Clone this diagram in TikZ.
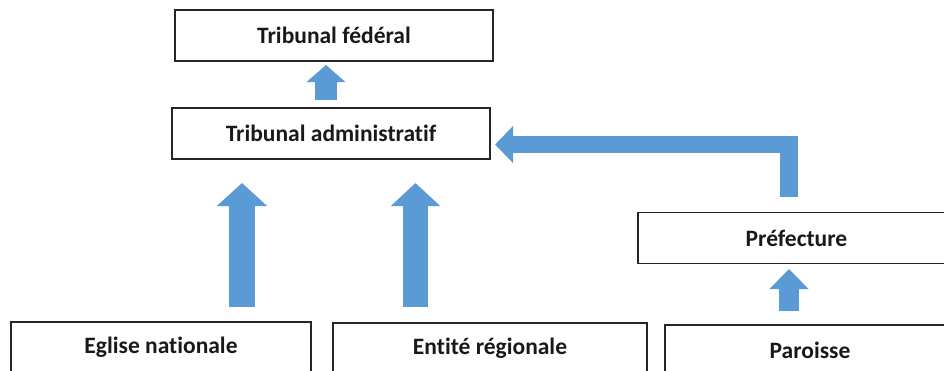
\documentclass[tikz,border=0pt]{standalone}
\usepackage{fontspec}
\setmainfont{Carlito}[Ligatures=NoCommon]
\usetikzlibrary{arrows.meta}
\definecolor{arrblue}{HTML}{5B9BD5}
\definecolor{boxline}{HTML}{262626}
\tikzset{
  box/.style={draw=boxline, line width=1.3pt, fill=white, minimum height=51pt, inner sep=0pt,
    font=\fontsize{23.5}{27}\selectfont\bfseries, text=black!90},
  blk/.style={draw=arrblue, line cap=butt, line join=miter}
}
\begin{document}
\begin{tikzpicture}[x=1pt,y=-1pt]
\path[use as bounding box] (0,0) rectangle (944,370);
\clip (0,0) rectangle (944,370);
\node[box, minimum width=318pt] (fed) at (334,35.5) {Tribunal fédéral};
\node[box, minimum width=318pt] (admin) at (331,133.5) {Tribunal administratif};
\node[box, minimum width=317pt] (pref) at (796.5,238) {Préfecture};
\node[box, minimum width=300pt, minimum height=50pt] (eglise) at (161,347) {Eglise nationale};
\node[box, minimum width=314pt, minimum height=50pt] (entite) at (490,348) {Entité régionale};
\node[box, minimum width=290pt, minimum height=50pt] (paroisse) at (810,350) {Paroisse};
% connector end points
\coordinate (a0s) at (326,100); \coordinate (a0e) at (326,65);
\coordinate (a1s) at (242,307); \coordinate (a1e) at (242,183);
\coordinate (a2s) at (415.5,307); \coordinate (a2e) at (415.5,183);
\coordinate (a3s) at (789,197); \coordinate (a3e) at (495,144.5);
\coordinate (a4s) at (789,311); \coordinate (a4e) at (789,269);
\draw[blk, line width=22pt, -{Triangle[length=17pt,width=38pt]}] (a0s) -- (a0e);
\draw[blk, line width=26pt, -{Triangle[length=23pt,width=49pt]}] (a1s) -- (a1e);
\draw[blk, line width=25pt, -{Triangle[length=23pt,width=48pt]}] (a2s) -- (a2e);
\draw[blk, line width=17.5pt, -{Triangle[length=18pt,width=36pt]}] (a3s) |- (a3e);
\draw[blk, line width=20pt, -{Triangle[length=20pt,width=38pt]}] (a4s) -- (a4e);
\end{tikzpicture}
\end{document}
